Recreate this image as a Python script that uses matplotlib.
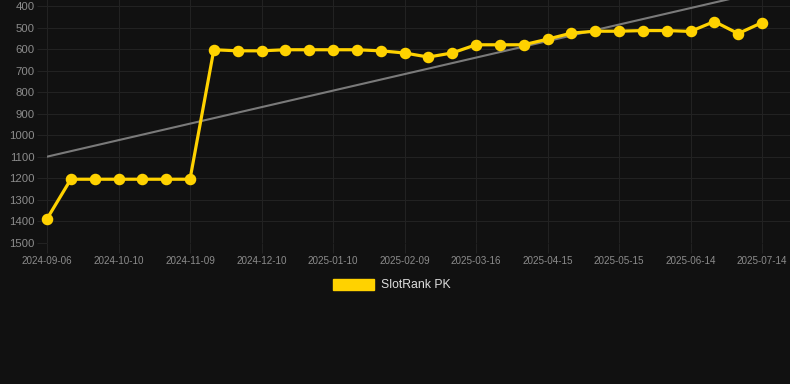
import numpy as np
import matplotlib
matplotlib.use("Agg")
import matplotlib.pyplot as plt
from matplotlib.patches import Patch

plt.rcParams["font.family"] = ["Liberation Sans", "DejaVu Sans"]

# ---- data ----
tick_labels = ["2024-09-06", "2024-10-10", "2024-11-09", "2024-12-10", "2025-01-10",
               "2025-02-09", "2025-03-16", "2025-04-15", "2025-05-15", "2025-06-14",
               "2025-07-14"]
rank = [1388, 1204, 1204, 1204, 1204, 1204, 1204,
        603, 608, 608, 603, 603, 603, 603, 608,
        618, 637, 618, 580, 580, 580, 554, 526, 517, 517,
        514, 514, 518, 472, 528, 477]
series_name = "SlotRank PK"
y_ticks = [400, 500, 600, 700, 800, 900, 1000, 1100, 1200, 1300, 1400, 1500]

BG = "#111111"
YELLOW = "#FFD200"
GRID = "#222222"

fig = plt.figure(figsize=(7.9, 3.84), dpi=100, facecolor=BG)
W, H = 790, 384
ax = fig.add_axes([47 / W, (H - 243) / H, (790 - 47) / W, 243 / H])
ax.set_facecolor(BG)

idx = np.arange(len(rank))
# trend line (linear regression)
coef = np.polyfit(idx, rank, 1)
tx = np.array([idx[0], idx[-1]])
ax.plot(tx, np.polyval(coef, tx), color="#7a7a7a", lw=1.5, zorder=2)

ax.plot(idx, rank, color=YELLOW, lw=2.3, marker="o", markersize=7.3,
        markerfacecolor=YELLOW, markeredgecolor=YELLOW, zorder=3, clip_on=False)

px_per = (762 - 47) / 30.0
ax.set_xlim(0, (790 - 47) / px_per)
ax.set_ylim(1500, 400 - 6 / (237 / 1100))

ax.set_yticks(y_ticks)
ax.set_yticklabels([str(v) for v in y_ticks])
ax.set_xticks(idx[::3])
ax.set_xticklabels(tick_labels)

ax.grid(True, color=GRID, lw=0.8, zorder=0)
for s in ax.spines.values():
    s.set_visible(False)

ax.tick_params(axis="y", colors=GRID, labelcolor="#8c8c8c", labelsize=8.2,
               length=7, width=0.8, pad=2)
ax.tick_params(axis="x", colors=GRID, labelcolor="#8c8c8c", labelsize=7.1,
               length=7, width=0.8, pad=2)

handle = Patch(facecolor=YELLOW, edgecolor=YELLOW)
leg = fig.legend([handle], [series_name], loc="center", bbox_to_anchor=(392 / W, (H - 285) / H),
                 frameon=False, handlelength=3.3, handleheight=1.0, handletextpad=0.6,
                 fontsize=8.8, labelcolor="#dddddd")

fig.savefig("out.png", dpi=100, facecolor=BG)
